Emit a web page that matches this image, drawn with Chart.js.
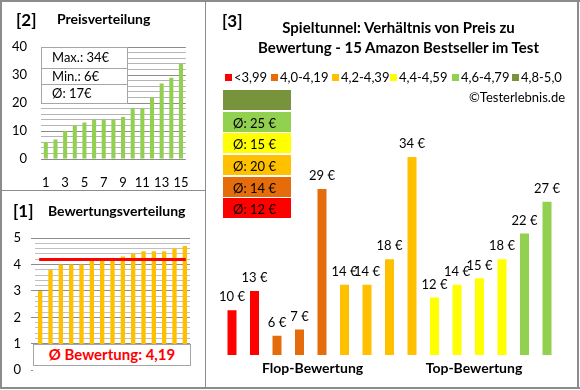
<!DOCTYPE html>
<html><head><meta charset="utf-8">
<script src="https://cdn.jsdelivr.net/npm/chart.js@4.4.0/dist/chart.umd.min.js"></script>
<style>
html,body{margin:0;padding:0;background:#fff;}
body{width:580px;height:390px;position:relative;overflow:hidden;font-family:Lato,"Open Sans",sans-serif;color:#000;}
canvas{position:absolute;}
.t{position:absolute;white-space:nowrap;line-height:1;}
.b{font-weight:bold;}
.ln{position:absolute;background:#8c8c8c;}
.sq{position:absolute;width:7px;height:7px;}
.box{position:absolute;left:223px;width:68px;height:20px;}
.box span{position:absolute;left:10px;top:3px;font-size:13px;}
</style></head><body>
<canvas id="cPrice" width="205" height="190" style="left:0;top:0"></canvas>
<canvas id="cRate" width="205" height="198" style="left:0;top:190px"></canvas>
<canvas id="cMain" width="373" height="387" style="left:205px;top:1px"></canvas>

<!-- panel borders -->
<div class="ln" style="left:0;top:0;width:580px;height:2px"></div>
<div class="ln" style="left:0;top:387px;width:580px;height:2px"></div>
<div class="ln" style="left:0;top:0;width:2px;height:389px"></div>
<div class="ln" style="left:577px;top:0;width:2px;height:389px"></div>
<div class="ln" style="left:205px;top:0;width:1px;height:389px"></div>
<div class="ln" style="left:0;top:190px;width:205px;height:1px"></div>

<!-- panel 2 texts -->
<div class="t b" style="left:16px;top:11px;font-size:17px">[2]</div>
<div class="t b" style="left:57px;top:12px;font-size:14px">Preisverteilung</div>
<div style="position:absolute;left:41px;top:47px;width:85px;height:55px;background:#fff;border:1px solid #a6a6a6"></div>
<div style="position:absolute;left:42px;top:68px;width:85px;height:1px;background:#a6a6a6"></div>
<div style="position:absolute;left:42px;top:84px;width:85px;height:1px;background:#a6a6a6"></div>
<div class="t" id="sMax" style="left:52px;top:51px;font-size:13px"></div>
<div class="t" id="sMin" style="left:52px;top:70px;font-size:13px"></div>
<div class="t" id="sAvg" style="left:52px;top:87px;font-size:13px"></div>

<!-- panel 1 texts -->
<div class="t b" style="left:13px;top:202px;font-size:17px">[1]</div>
<div class="t b" style="left:48px;top:204px;font-size:14px">Bewertungsverteilung</div>
<div style="position:absolute;left:33px;top:365px;width:158px;height:6px;background:#fff"></div>
<div style="position:absolute;left:33px;top:344px;width:156px;height:20px;background:#fff;border:1px solid #a6a6a6"></div>
<div class="t b" id="rAvg" style="left:33px;width:158px;text-align:center;top:347px;font-size:15px;color:#ff0000"></div>

<!-- panel 3 texts -->
<div class="t b" style="left:222px;top:12px;font-size:17px">[3]</div>
<div class="t b" style="left:206px;width:385px;text-align:center;top:17px;font-size:15px;line-height:20px;white-space:normal">Spieltunnel: Verhältnis von Preis zu<br>Bewertung - 15 Amazon Bestseller im Test</div>
<div id="legend"></div>
<div class="t" style="left:469px;top:91px;font-size:13px">©Testerlebnis.de</div>
<div id="boxes"></div>
<div class="t b" id="flop" style="left:262px;width:100px;text-align:center;top:361px;font-size:14px"></div>
<div class="t b" id="top" style="left:424px;width:100px;text-align:center;top:361px;font-size:14px"></div>

<script>
// ---- data ----
const rankLabels = ['1','2','3','4','5','6','7','8','9','10','11','12','13','14','15'];
const pricesSorted = [6,7,10,12,13,14,14,14,15,18,18,22,27,29,34];
const priceTicks = [0,10,20,30,40];
const priceStats = ['Max.: 34€','Min.: 6€','Ø: 17€'];
const ratingsSorted = [3.0,3.8,4.0,4.0,4.0,4.2,4.2,4.2,4.3,4.4,4.5,4.5,4.5,4.6,4.7];
const ratingTicks = [0,1,2,3,4,5];
const avgRating = 4.19;
const avgRatingText = 'Ø Bewertung: 4,19';
const productPrices = [10,13,6,7,29,14,14,18,34,12,14,15,18,22,27];
const productGroup = [0,0,1,1,1,2,2,2,2,3,3,3,3,4,4];
const groupNames = ['<3,99','4,0-4,19','4,2-4,39','4,4-4,59','4,6-4,79','4,8-5,0'];
const groupColors = ['#ff0000','#e46c0a','#ffc000','#ffff00','#92d050','#77933c'];
const groupAvgText = ['Ø: 12 €','Ø: 14 €','Ø: 20 €','Ø: 15 €','Ø: 25 €',''];
const flopTopLabels = ['Flop-Bewertung','Top-Bewertung'];

Chart.defaults.font.family = 'Lato, "Open Sans", sans-serif';
Chart.defaults.color = '#000';
const FONT = 'Lato, "Open Sans", sans-serif';

document.getElementById('sMax').textContent = priceStats[0];
document.getElementById('sMin').textContent = priceStats[1];
document.getElementById('sAvg').textContent = priceStats[2];
document.getElementById('rAvg').textContent = avgRatingText;
document.getElementById('flop').textContent = flopTopLabels[0];
document.getElementById('top').textContent = flopTopLabels[1];

// legend
const legX = [225,271,332,390,452,512];
let lh = '';
groupNames.forEach((n,i)=>{
  lh += `<div class="sq" style="left:${legX[i]}px;top:74px;background:${groupColors[i]}"></div>`;
  lh += `<div class="t" style="left:${legX[i]+9}px;top:71px;font-size:13px">${n.replace('<','&lt;')}</div>`;
});
document.getElementById('legend').innerHTML = lh;
// average boxes (top: olive ... bottom: red)
const boxTops = [90,112,133,155,177,198];
let bh = '';
for (let k=0;k<6;k++){
  const gi = 5-k;
  bh += `<div class="box" style="top:${boxTops[k]}px;background:${groupColors[gi]}"><span>${groupAvgText[gi]}</span></div>`;
}
document.getElementById('boxes').innerHTML = bh;

const near = v => Math.abs(v-Math.round(v))<1e-6;

// ---- price chart ----
new Chart(document.getElementById('cPrice'), {
  type:'bar',
  data:{labels:rankLabels, datasets:[{data:pricesSorted, backgroundColor:'#92d050', barPercentage:0.42, categoryPercentage:1}]},
  options:{
    responsive:false, animation:false, devicePixelRatio:1,
    layout:{padding:{top:47,right:15,left:0,bottom:0}},
    plugins:{legend:{display:false},tooltip:{enabled:false}},
    scales:{
      x:{grid:{display:false,drawTicks:false},border:{display:false},
         ticks:{autoSkip:false,maxRotation:0,padding:16,font:{size:13,family:FONT},
           callback:function(v,i){return i%2===0?this.getLabelForValue(v):'';}},
         afterFit:s=>{s.height=31;}},
      y:{min:0,max:40,
         grid:{drawTicks:false,color:c=>priceTicks.includes(c.tick.value)?'#8c8c8c':'#b5b5b5'},
         border:{display:false},
         ticks:{autoSkip:false,stepSize:2,padding:14,font:{size:13,family:FONT},callback:v=>priceTicks.includes(v)?v:''},
         afterFit:s=>{s.width=41;}}
    }
  }
});

// ---- rating chart ----
const avgLinePlugin = {
  id:'avgLine',
  afterDatasetsDraw(chart){
    const ctx=chart.ctx, m=chart.getDatasetMeta(0);
    const y=chart.scales.y.getPixelForValue(avgRating);
    ctx.save();ctx.strokeStyle='#ff0000';ctx.lineWidth=3;
    ctx.beginPath();ctx.moveTo(m.data[0].x-1,y);ctx.lineTo(m.data[m.data.length-1].x+1,y);ctx.stroke();ctx.restore();
  }
};
new Chart(document.getElementById('cRate'), {
  type:'bar',
  data:{labels:rankLabels, datasets:[{data:ratingsSorted, backgroundColor:'#ffc000', barPercentage:0.42, categoryPercentage:1}]},
  options:{
    responsive:false, animation:false, devicePixelRatio:1,
    layout:{padding:{top:48,right:15,left:0,bottom:16}},
    plugins:{legend:{display:false},tooltip:{enabled:false}},
    scales:{
      x:{display:false},
      y:{min:0,max:5,
         grid:{tickLength:4,color:c=>near(c.tick.value)?'#8c8c8c':'#c0c0c0',
               tickColor:c=>near(c.tick.value)?'#8c8c8c':'rgba(0,0,0,0)'},
         border:{display:false},
         ticks:{autoSkip:false,stepSize:0.2,padding:10,font:{size:13,family:FONT},
           callback:v=>{const r=Math.round(v);return near(v)&&ratingTicks.includes(r)?r:'';}},
         afterFit:s=>{s.width=35;}}
    }
  },
  plugins:[avgLinePlugin]
});

// ---- main chart ----
const valueLabelPlugin = {
  id:'valueLabels',
  afterDatasetsDraw(chart){
    const ctx=chart.ctx, m=chart.getDatasetMeta(0);
    ctx.save();ctx.fillStyle='#000';ctx.font='13px '+FONT;ctx.textAlign='center';ctx.textBaseline='middle';
    m.data.forEach((bar,i)=>{ctx.fillText(productPrices[i]+' €',bar.x,bar.y-13);});
    ctx.restore();
  }
};
new Chart(document.getElementById('cMain'), {
  type:'bar',
  data:{labels:rankLabels, datasets:[{data:productPrices, backgroundColor:productPrices.map((v,i)=>groupColors[productGroup[i]]), barPercentage:0.4, categoryPercentage:1}]},
  options:{
    responsive:false, animation:false, devicePixelRatio:1,
    layout:{padding:{top:117.6,right:19.75,left:15.75,bottom:33}},
    plugins:{legend:{display:false},tooltip:{enabled:false}},
    scales:{x:{display:false},y:{display:false,min:3,max:40}}
  },
  plugins:[valueLabelPlugin]
});
</script>
</body></html>
